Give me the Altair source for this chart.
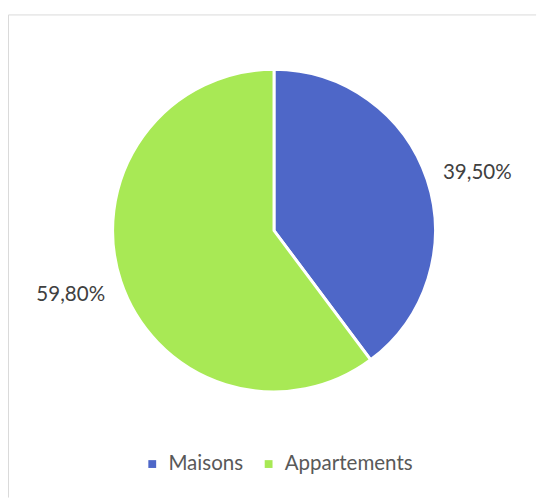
import altair as alt
import pandas as pd

categories = ["Maisons", "Appartements"]
values = [39.5, 59.8]
labels = ["39,50%", "59,80%"]
colors = ["#4E67C8", "#A8E955"]

df = pd.DataFrame({
    "cat": categories,
    "value": values,
    "label": labels,
    "ord": list(range(len(categories))),
})

base = alt.Chart(df).encode(
    theta=alt.Theta("value:Q", stack=True),
    order=alt.Order("ord:Q"),
)

arcs = base.mark_arc(outerRadius=165, stroke="white", strokeWidth=3).encode(
    color=alt.Color(
        "cat:N",
        scale=alt.Scale(domain=categories, range=colors),
        sort=categories,
        legend=alt.Legend(
            title=None,
            orient="none",
            legendX=137,
            legendY=450,
            direction="horizontal",
            symbolType="square",
            symbolSize=64,
            symbolStrokeWidth=0,
            labelFont="Lato",
            labelFontSize=21,
            labelColor="#595959",
            labelOffset=6,
            columnPadding=15,
            padding=0,
        ),
    )
)

text = base.mark_text(
    radius=217, thetaOffset=0.03, dy=4, font="Lato", fontSize=21, color="#404040",
    align="center", baseline="middle"
).encode(text="label:N")

frame_df = pd.DataFrame({"a": [0]})
left_line = alt.Chart(frame_df).mark_rule(color="#d9d9d9", strokeWidth=1).encode(
    x=alt.value(0.5), y=alt.value(1.5), y2=alt.value(495)
)
top_line = alt.Chart(frame_df).mark_rule(color="#d9d9d9", strokeWidth=1).encode(
    x=alt.value(0.5), x2=alt.value(540), y=alt.value(1.5)
)

chart = alt.layer(left_line, top_line, arcs, text).properties(
    width=544,
    height=444,
    padding={"left": 0, "top": 0, "right": 0, "bottom": 51},
    autosize=alt.AutoSizeParams(type="none"),
    background="white",
).configure_view(stroke=None)

chart.save("out.html", embed_options={"renderer": "svg", "actions": False})
